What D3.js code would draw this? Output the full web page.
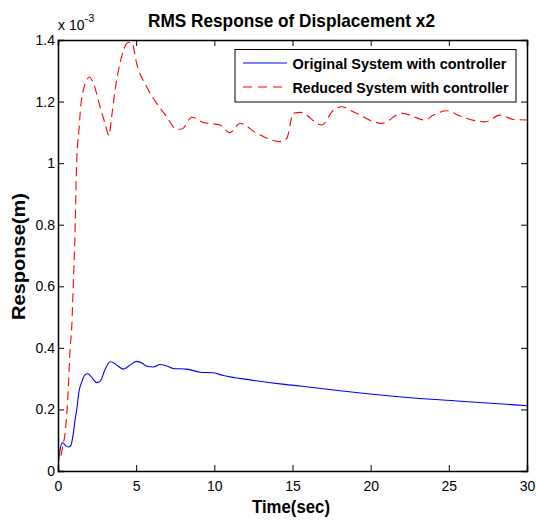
<!DOCTYPE html>
<html>
<head>
<meta charset="utf-8">
<script src="https://cdnjs.cloudflare.com/ajax/libs/d3/7.8.5/d3.min.js"></script>
<style>
  html, body { margin: 0; padding: 0; background: #fff; }
  svg { display: block; font-family: "Liberation Sans", Arial, sans-serif; }
</style>
</head>
<body>
<script>
// ---- data (response values in units of 1e-3 m) ----
const seriesNames = ["Original System with controller", "Reduced System with controller"];
const originalTime = [0, 0.02, 0.13, 0.28, 0.4, 0.55, 0.7, 0.83, 0.98, 1.09, 1.2, 1.34, 1.51, 1.73, 1.9, 2.15, 2.47, 2.7, 3.0, 3.33, 3.6, 3.76, 4.18, 4.61, 5.03, 5.4, 5.67, 6.1, 6.53, 7.0, 7.38, 8.23, 9.08, 9.94, 10.58, 12.28, 14.2, 15.48, 18.47, 22.73, 26, 30];
const originalValue = [0, 0.02, 0.068, 0.092, 0.088, 0.08, 0.078, 0.084, 0.122, 0.166, 0.2, 0.258, 0.288, 0.312, 0.316, 0.305, 0.287, 0.292, 0.328, 0.355, 0.35, 0.344, 0.331, 0.344, 0.356, 0.35, 0.34, 0.338, 0.346, 0.34, 0.333, 0.331, 0.321, 0.319, 0.31, 0.296, 0.283, 0.276, 0.258, 0.237, 0.226, 0.212];
const reducedTime = [0, 0.08, 0.15, 0.3, 0.45, 0.62, 0.77, 0.88, 0.98, 1.09, 1.19, 1.34, 1.45, 1.62, 1.8, 2.0, 2.26, 2.69, 3.0, 3.26, 3.43, 3.65, 3.86, 4.07, 4.4, 4.6, 4.75, 5.03, 5.67, 6.31, 6.95, 7.49, 7.8, 8.0, 8.55, 9.3, 10.36, 11.0, 11.64, 12.71, 14.2, 14.63, 15.05, 15.48, 16.87, 17.61, 18.15, 18.89, 20.7, 21.99, 23.48, 24.01, 24.87, 25.72, 27.32, 28.28, 29.13, 30];
const reducedValue = [0, 0.065, 0.045, 0.08, 0.122, 0.23, 0.393, 0.469, 0.61, 0.775, 1.0, 1.107, 1.183, 1.237, 1.265, 1.28, 1.26, 1.183, 1.13, 1.09, 1.15, 1.237, 1.3, 1.346, 1.389, 1.393, 1.389, 1.324, 1.248, 1.194, 1.151, 1.113, 1.11, 1.113, 1.149, 1.132, 1.124, 1.099, 1.129, 1.097, 1.07, 1.08, 1.162, 1.165, 1.124, 1.172, 1.183, 1.167, 1.129, 1.162, 1.14, 1.156, 1.17, 1.153, 1.134, 1.156, 1.142, 1.14];
const xTicks = [0, 5, 10, 15, 20, 25, 30];
const yTicks = [0, 0.2, 0.4, 0.6, 0.8, 1.0, 1.2, 1.4];
const yTickLabels = ["0", "0.2", "0.4", "0.6", "0.8", "1", "1.2", "1.4"];
const titleText = "RMS Response of Displacement x2";
const xLabelText = "Time(sec)";
const yLabelText = "Response(m)";

// ---- layout ----
const W = 536, H = 520;
const L = 58, R = 527, T = 40, B = 471;

const svg = d3.select("body").append("svg").attr("width", W).attr("height", H);
svg.append("rect").attr("width", W).attr("height", H).attr("fill", "#fff");

const x = d3.scaleLinear().domain([0, 30]).range([L, R]);
const y = d3.scaleLinear().domain([0, 1.4]).range([B, T]);

const clipId = "plotclip";
svg.append("clipPath").attr("id", clipId).append("rect")
  .attr("x", L).attr("y", T - 2).attr("width", R - L).attr("height", B - T + 2);

const line = d3.line().x(d => x(d[0])).y(d => y(d[1])).curve(d3.curveMonotoneX);
const origData = originalTime.map((t, i) => [t, originalValue[i]]);
const redData = reducedTime.map((t, i) => [t, reducedValue[i]]);

const g = svg.append("g").attr("clip-path", `url(#${clipId})`);
g.append("path").datum(origData).attr("d", line)
  .attr("fill", "none").attr("stroke", "#0000ff").attr("stroke-width", 1.1);
g.append("path").datum(redData).attr("d", line)
  .attr("fill", "none").attr("stroke", "#ff0000").attr("stroke-width", 1.1)
  .attr("stroke-dasharray", "9,5");

// ---- axes (ticks inward, box on all sides) ----
const tickLen = 6;
const axBottom = d3.axisBottom(x).tickValues(xTicks).tickSize(-tickLen).tickPadding(10).tickFormat(d3.format("d"));
const axTop = d3.axisTop(x).tickValues(xTicks).tickSize(-tickLen).tickFormat("");
const axLeft = d3.axisLeft(y).tickValues(yTicks).tickSize(-tickLen).tickPadding(10).tickFormat((d, i) => yTickLabels[i]);
const axRight = d3.axisRight(y).tickValues(yTicks).tickSize(-tickLen).tickFormat("");

function styleAxis(sel) {
  sel.select(".domain").attr("stroke", "#000").attr("stroke-width", 1.5);
  sel.selectAll(".tick line").attr("stroke", "#000").attr("stroke-width", 1);
  sel.selectAll(".tick text").attr("fill", "#000").style("font-size", "14px")
    .style("font-family", "'Liberation Sans', Arial, sans-serif");
}
svg.append("g").attr("transform", `translate(0,${B})`).call(axBottom).call(styleAxis)
  .selectAll(".tick text").attr("dy", "0.71em");
svg.append("g").attr("transform", `translate(0,${T})`).call(axTop).call(styleAxis);
svg.append("g").attr("transform", `translate(${L},0)`).call(axLeft).call(styleAxis)
  .selectAll(".tick text").attr("dx", "7");
svg.append("g").attr("transform", `translate(${R},0)`).call(axRight).call(styleAxis);
svg.selectAll(".domain").attr("d", function () { return d3.select(this).attr("d").replace(/V-?6|V6|H-?6|H6/g, m => m); });

// exponent label
const ex = svg.append("text").attr("x", 58).attr("y", 30)
  .style("font-size", "14px").attr("fill", "#000");
ex.append("tspan").text("x 10");
ex.append("tspan").attr("dy", -8).style("font-size", "11px").text("-3");

// title
svg.append("text").attr("x", 291.5).attr("y", 26.5).attr("text-anchor", "middle")
  .style("font-size", "19px").style("font-weight", "bold")
  .attr("textLength", 287).attr("lengthAdjust", "spacingAndGlyphs").text(titleText);

// x label
svg.append("text").attr("x", 291).attr("y", 513).attr("text-anchor", "middle")
  .style("font-size", "18px").style("font-weight", "bold")
  .attr("textLength", 78).attr("lengthAdjust", "spacingAndGlyphs").text(xLabelText);

// y label
svg.append("text").attr("transform", "translate(25,256.5) rotate(-90)").attr("text-anchor", "middle")
  .style("font-size", "19px").style("font-weight", "bold")
  .attr("textLength", 127).attr("lengthAdjust", "spacingAndGlyphs").text(yLabelText);

// legend
const lg = svg.append("g");
lg.append("rect").attr("x", 235).attr("y", 49.5).attr("width", 281).attr("height", 52.5)
  .attr("fill", "#fff").attr("stroke", "#000").attr("stroke-width", 1);
const legendRows = [
  { name: seriesNames[0], color: "#0000ff", dash: null, y: 63, tl: 214 },
  { name: seriesNames[1], color: "#ff0000", dash: "9,6", y: 87, tl: 216 }
];
legendRows.forEach(r => {
  lg.append("line").attr("x1", 243).attr("x2", 287).attr("y1", r.y).attr("y2", r.y)
    .attr("stroke", r.color).attr("stroke-width", 1.1).attr("stroke-dasharray", r.dash);
  lg.append("text").attr("x", 292.5).attr("y", r.y + 6)
    .style("font-size", "15px").style("font-weight", "bold")
    .attr("textLength", r.tl).attr("lengthAdjust", "spacingAndGlyphs").text(r.name);
});
</script>
</body>
</html>
